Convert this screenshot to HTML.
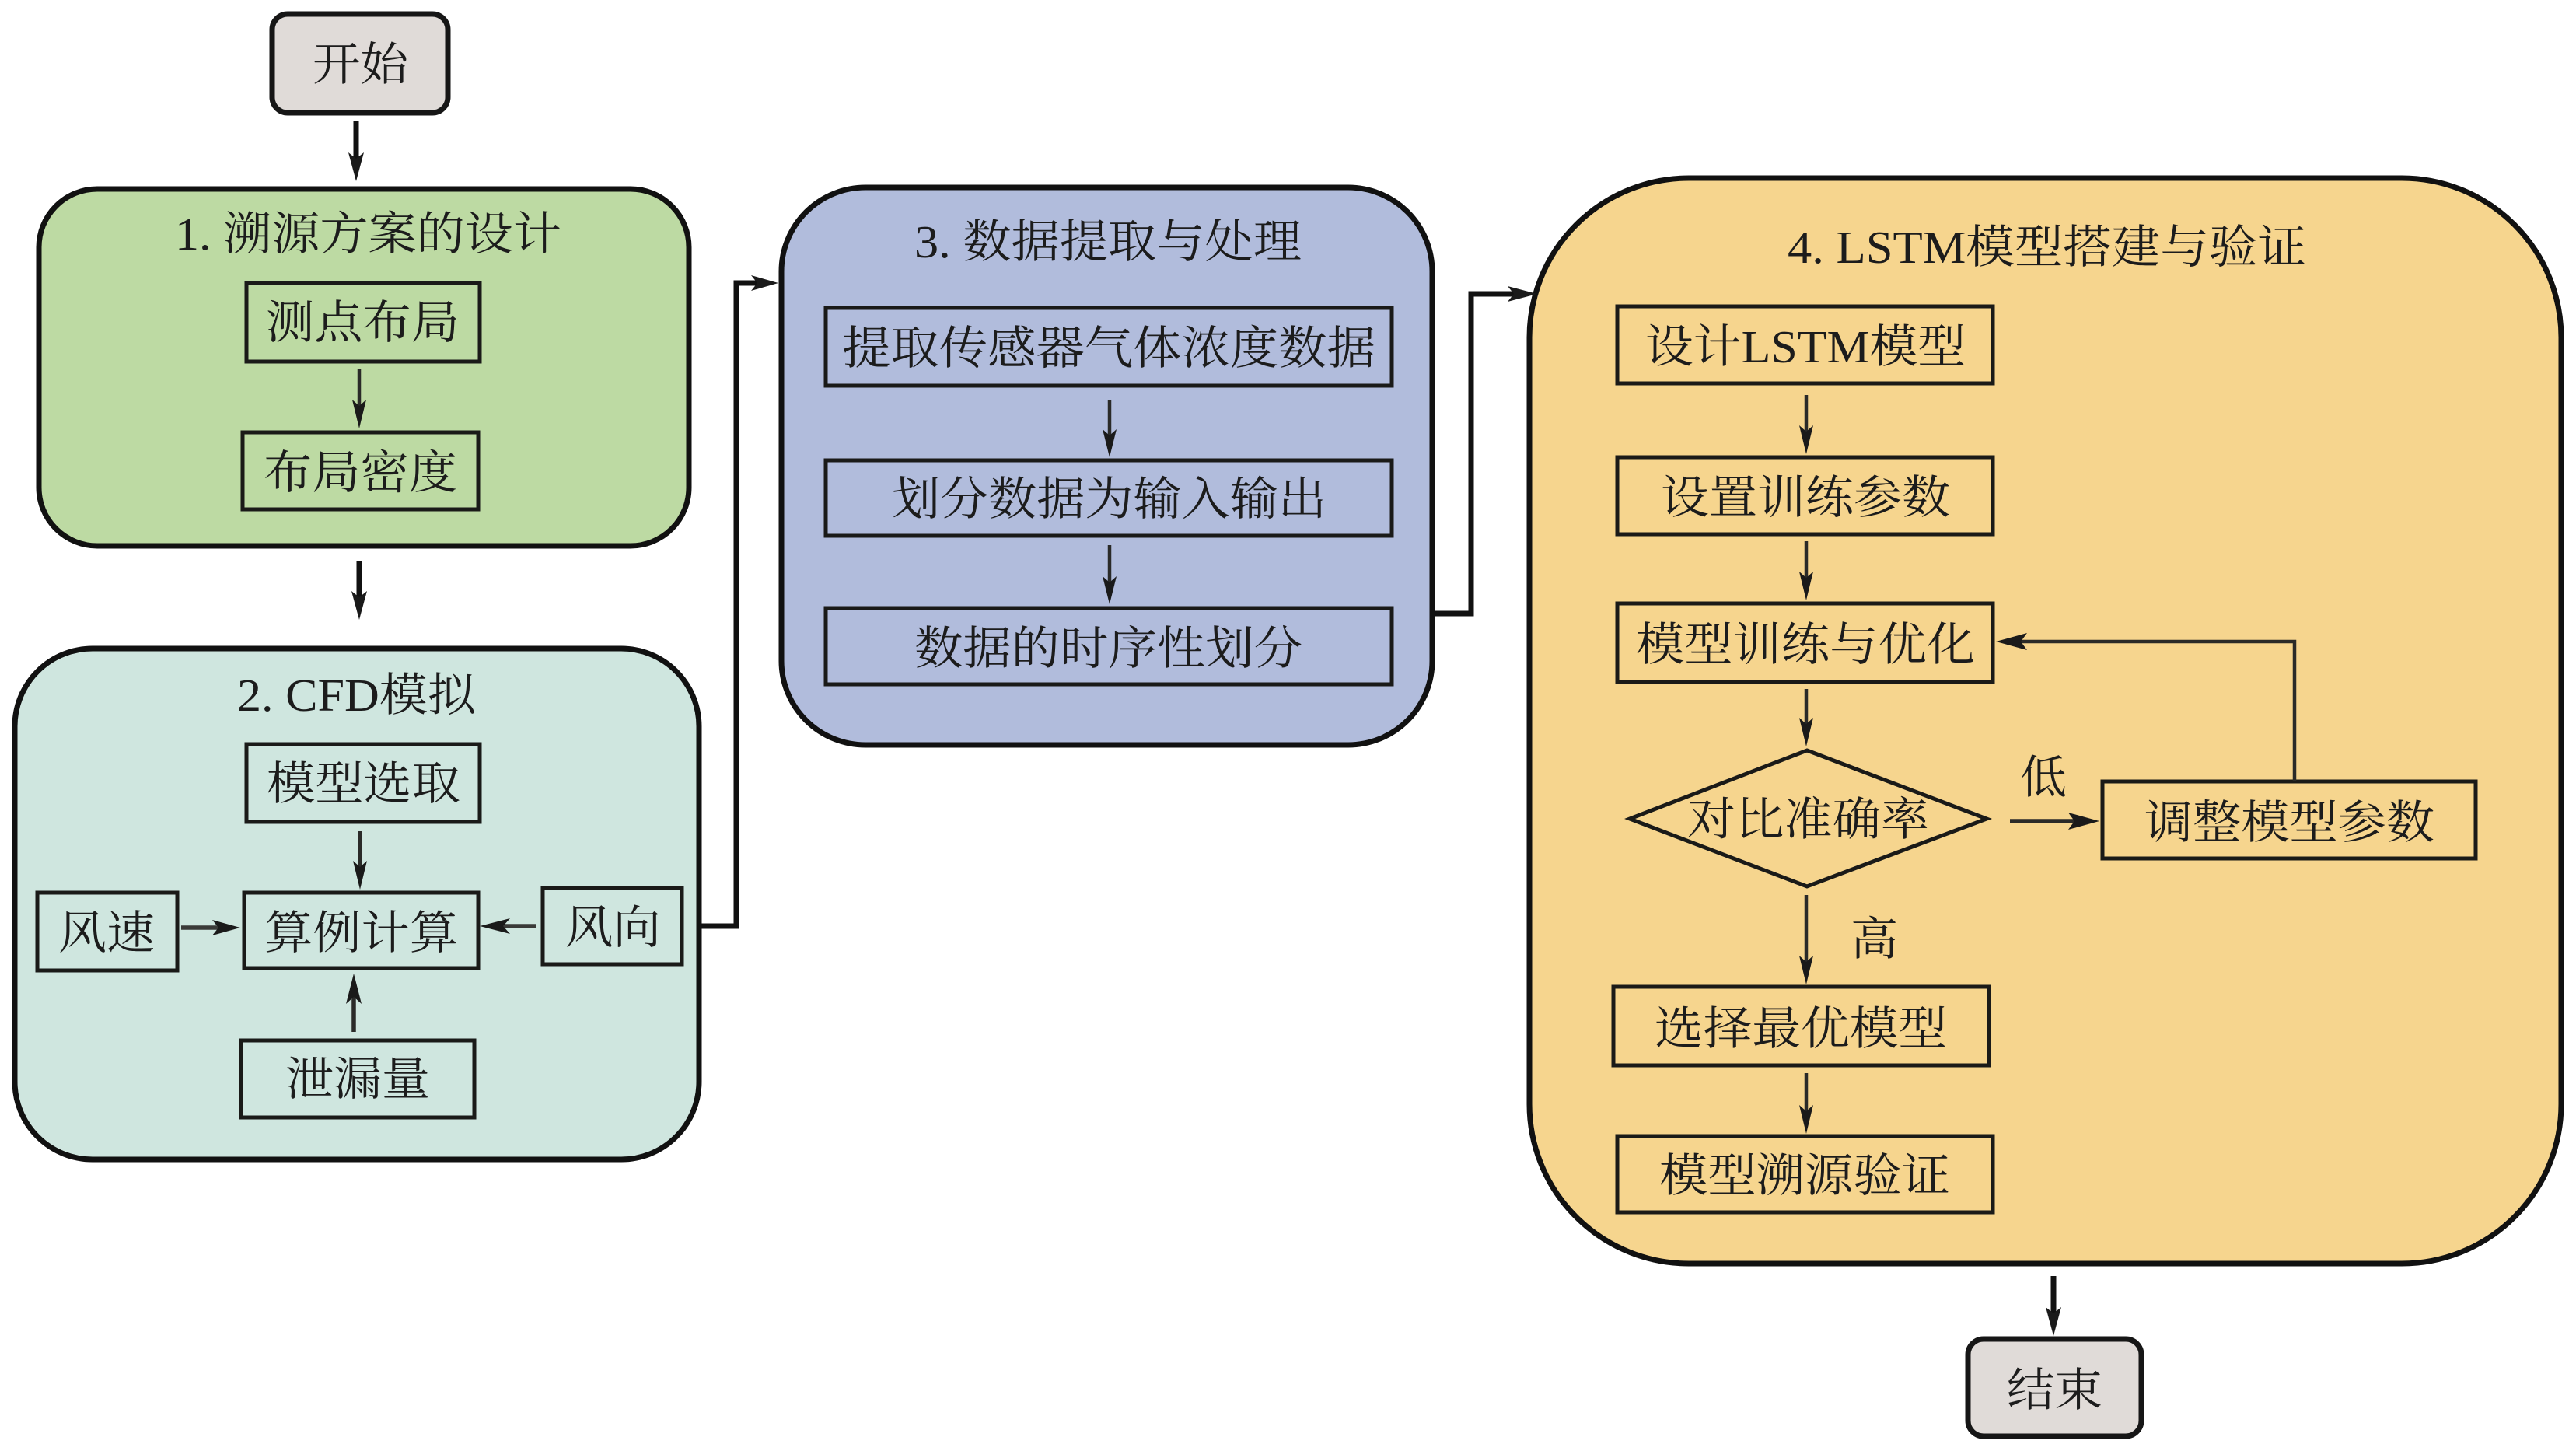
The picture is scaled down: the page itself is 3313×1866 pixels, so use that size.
<!DOCTYPE html>
<html><head><meta charset="utf-8"><style>
html,body{margin:0;padding:0;background:#fff}
svg{display:block}
text{font-family:"Liberation Serif","Noto Serif CJK SC",serif;font-size:59px;fill:#1c1c1c}
.b{fill:none;stroke:#1a1a18;stroke-width:5}
.l{fill:none;stroke:#2a2a28;stroke-width:4.5}
.t{fill:none;stroke:#111;stroke-width:7}
.h{fill:#1a1a1a;stroke:none}
</style></head><body>
<svg xmlns="http://www.w3.org/2000/svg" width="3313" height="1866" viewBox="0 0 3313 1866">
<rect width="3313" height="1866" fill="#fff"/>

<!-- big panels -->
<rect x="350" y="18" width="226" height="127" rx="20" fill="#e0dbd8" stroke="#161616" stroke-width="7"/>
<rect x="50" y="243" width="836" height="459" rx="75" fill="#bddaa3" stroke="#111" stroke-width="7"/>
<rect x="19" y="834" width="880" height="657" rx="100" fill="#cfe6df" stroke="#111" stroke-width="7"/>
<rect x="1005" y="241" width="837" height="717" rx="108" fill="#b1bcdc" stroke="#111" stroke-width="7"/>
<rect x="1967" y="229" width="1327" height="1396" rx="205" fill="#f6d58e" stroke="#111" stroke-width="7"/>
<rect x="2531" y="1722" width="223" height="125" rx="20" fill="#e0dbd8" stroke="#161616" stroke-width="7"/>

<!-- inner boxes -->
<rect class="b" x="317" y="364" width="300" height="101"/>
<rect class="b" x="312" y="556" width="303" height="99"/>
<rect class="b" x="317" y="957" width="300" height="100"/>
<rect class="b" x="314" y="1148" width="301" height="97"/>
<rect class="b" x="48" y="1148" width="180" height="100"/>
<rect class="b" x="698" y="1142" width="179" height="98"/>
<rect class="b" x="310" y="1338" width="300" height="99"/>
<rect class="b" x="1062" y="396" width="728" height="100"/>
<rect class="b" x="1062" y="592" width="728" height="97"/>
<rect class="b" x="1062" y="782" width="728" height="98"/>
<rect class="b" x="2080" y="394" width="483" height="99"/>
<rect class="b" x="2080" y="588" width="483" height="99"/>
<rect class="b" x="2080" y="776" width="483" height="101"/>
<polygon class="b" points="2324,965 2555,1053 2324,1140 2096,1053"/>
<rect class="b" x="2704" y="1005" width="480" height="99"/>
<rect class="b" x="2075" y="1269" width="483" height="101"/>
<rect class="b" x="2080" y="1461" width="483" height="98"/>

<!-- connectors -->
<path class="t" d="M458 156V215"/><polygon class="h" points="458,233 448,196 458,204 468,196"/>
<path class="t" d="M462 721V780"/><polygon class="h" points="462,797 452,760 462,768 472,760"/>
<path class="l" d="M462 474V535"/><polygon class="h" points="462,551 453,514 462,522 471,514"/>
<path class="l" d="M463 1069V1125"/><polygon class="h" points="463,1144 454,1107 463,1115 472,1107"/>
<path class="l" d="M233 1193H290" style="stroke-width:5.5;stroke:#3a3a38"/><polygon class="h" points="309,1193 273,1183 281,1193 273,1203"/>
<path class="l" d="M689 1191H635" style="stroke-width:5.5;stroke:#3a3a38"/><polygon class="h" points="617,1191 656,1181 647,1191 656,1201"/>
<path class="l" d="M455 1327V1270" style="stroke-width:5.5"/><polygon class="h" points="455,1252 445,1291 455,1282 465,1291"/>
<path class="t" d="M898 1191H947V364H985"/><polygon class="h" points="1001,364 966,354 974,364 966,374"/>
<path class="l" d="M1427 514V570"/><polygon class="h" points="1427,588 1418,552 1427,560 1436,552"/>
<path class="l" d="M1427 701V760"/><polygon class="h" points="1427,777 1418,741 1427,749 1436,741"/>
<path class="t" d="M1846 789H1892V378H1950"/><polygon class="h" points="1977,378 1939,368 1947,378 1939,388"/>
<path class="l" d="M2323 508V565"/><polygon class="h" points="2323,584 2314,547 2323,555 2332,547"/>
<path class="l" d="M2323 696V755"/><polygon class="h" points="2323,772 2314,735 2323,743 2332,735"/>
<path class="l" d="M2323 886V945"/><polygon class="h" points="2323,960 2314,923 2323,931 2332,923"/>
<path class="l" d="M2323 1151V1248"/><polygon class="h" points="2323,1266 2314,1229 2323,1237 2332,1229"/>
<path class="l" d="M2323 1380V1440"/><polygon class="h" points="2323,1458 2314,1421 2323,1429 2332,1421"/>
<path class="l" d="M2585 1056H2680" style="stroke-width:5.5"/><polygon class="h" points="2700,1056 2660,1045 2668,1056 2660,1067"/>
<path class="l" d="M2951 1004V825H2590"/><polygon class="h" points="2567,825 2607,814 2599,825 2607,836"/>
<path class="t" d="M2641 1641V1700"/><polygon class="h" points="2641,1718 2631,1681 2641,1689 2651,1681"/>

<!-- labels -->
<text x="402" y="103" textLength="123" lengthAdjust="spacingAndGlyphs">开始</text>
<text x="225" y="321" textLength="497" lengthAdjust="spacingAndGlyphs">1. 溯源方案的设计</text>
<text x="342" y="435" textLength="249" lengthAdjust="spacingAndGlyphs">测点布局</text>
<text x="339" y="628" textLength="249" lengthAdjust="spacingAndGlyphs">布局密度</text>
<text x="305" y="914" textLength="307" lengthAdjust="spacingAndGlyphs">2. CFD模拟</text>
<text x="343" y="1028" textLength="249" lengthAdjust="spacingAndGlyphs">模型选取</text>
<text x="340" y="1220" textLength="249" lengthAdjust="spacingAndGlyphs">算例计算</text>
<text x="75" y="1220" textLength="124" lengthAdjust="spacingAndGlyphs">风速</text>
<text x="727" y="1213" textLength="123" lengthAdjust="spacingAndGlyphs">风向</text>
<text x="367" y="1408" textLength="186" lengthAdjust="spacingAndGlyphs">泄漏量</text>
<text x="1176" y="331" textLength="498" lengthAdjust="spacingAndGlyphs">3. 数据提取与处理</text>
<text x="1083" y="468" textLength="686" lengthAdjust="spacingAndGlyphs">提取传感器气体浓度数据</text>
<text x="1147" y="662" textLength="559" lengthAdjust="spacingAndGlyphs">划分数据为输入输出</text>
<text x="1176" y="854" textLength="499" lengthAdjust="spacingAndGlyphs">数据的时序性划分</text>
<text x="2299" y="338" textLength="667" lengthAdjust="spacingAndGlyphs">4. LSTM模型搭建与验证</text>
<text x="2116" y="466" textLength="412" lengthAdjust="spacingAndGlyphs">设计LSTM模型</text>
<text x="2136" y="660" textLength="372" lengthAdjust="spacingAndGlyphs">设置训练参数</text>
<text x="2104" y="849" textLength="436" lengthAdjust="spacingAndGlyphs">模型训练与优化</text>
<text x="2170" y="1074" textLength="311" lengthAdjust="spacingAndGlyphs">对比准确率</text>
<text x="2758" y="1078" textLength="373" lengthAdjust="spacingAndGlyphs">调整模型参数</text>
<text x="2598" y="1020" textLength="60" lengthAdjust="spacingAndGlyphs">低</text>
<text x="2380" y="1228" textLength="61" lengthAdjust="spacingAndGlyphs">高</text>
<text x="2128" y="1343" textLength="376" lengthAdjust="spacingAndGlyphs">选择最优模型</text>
<text x="2134" y="1532" textLength="374" lengthAdjust="spacingAndGlyphs">模型溯源验证</text>
<text x="2581" y="1808" textLength="123" lengthAdjust="spacingAndGlyphs">结束</text>
</svg>
</body></html>
